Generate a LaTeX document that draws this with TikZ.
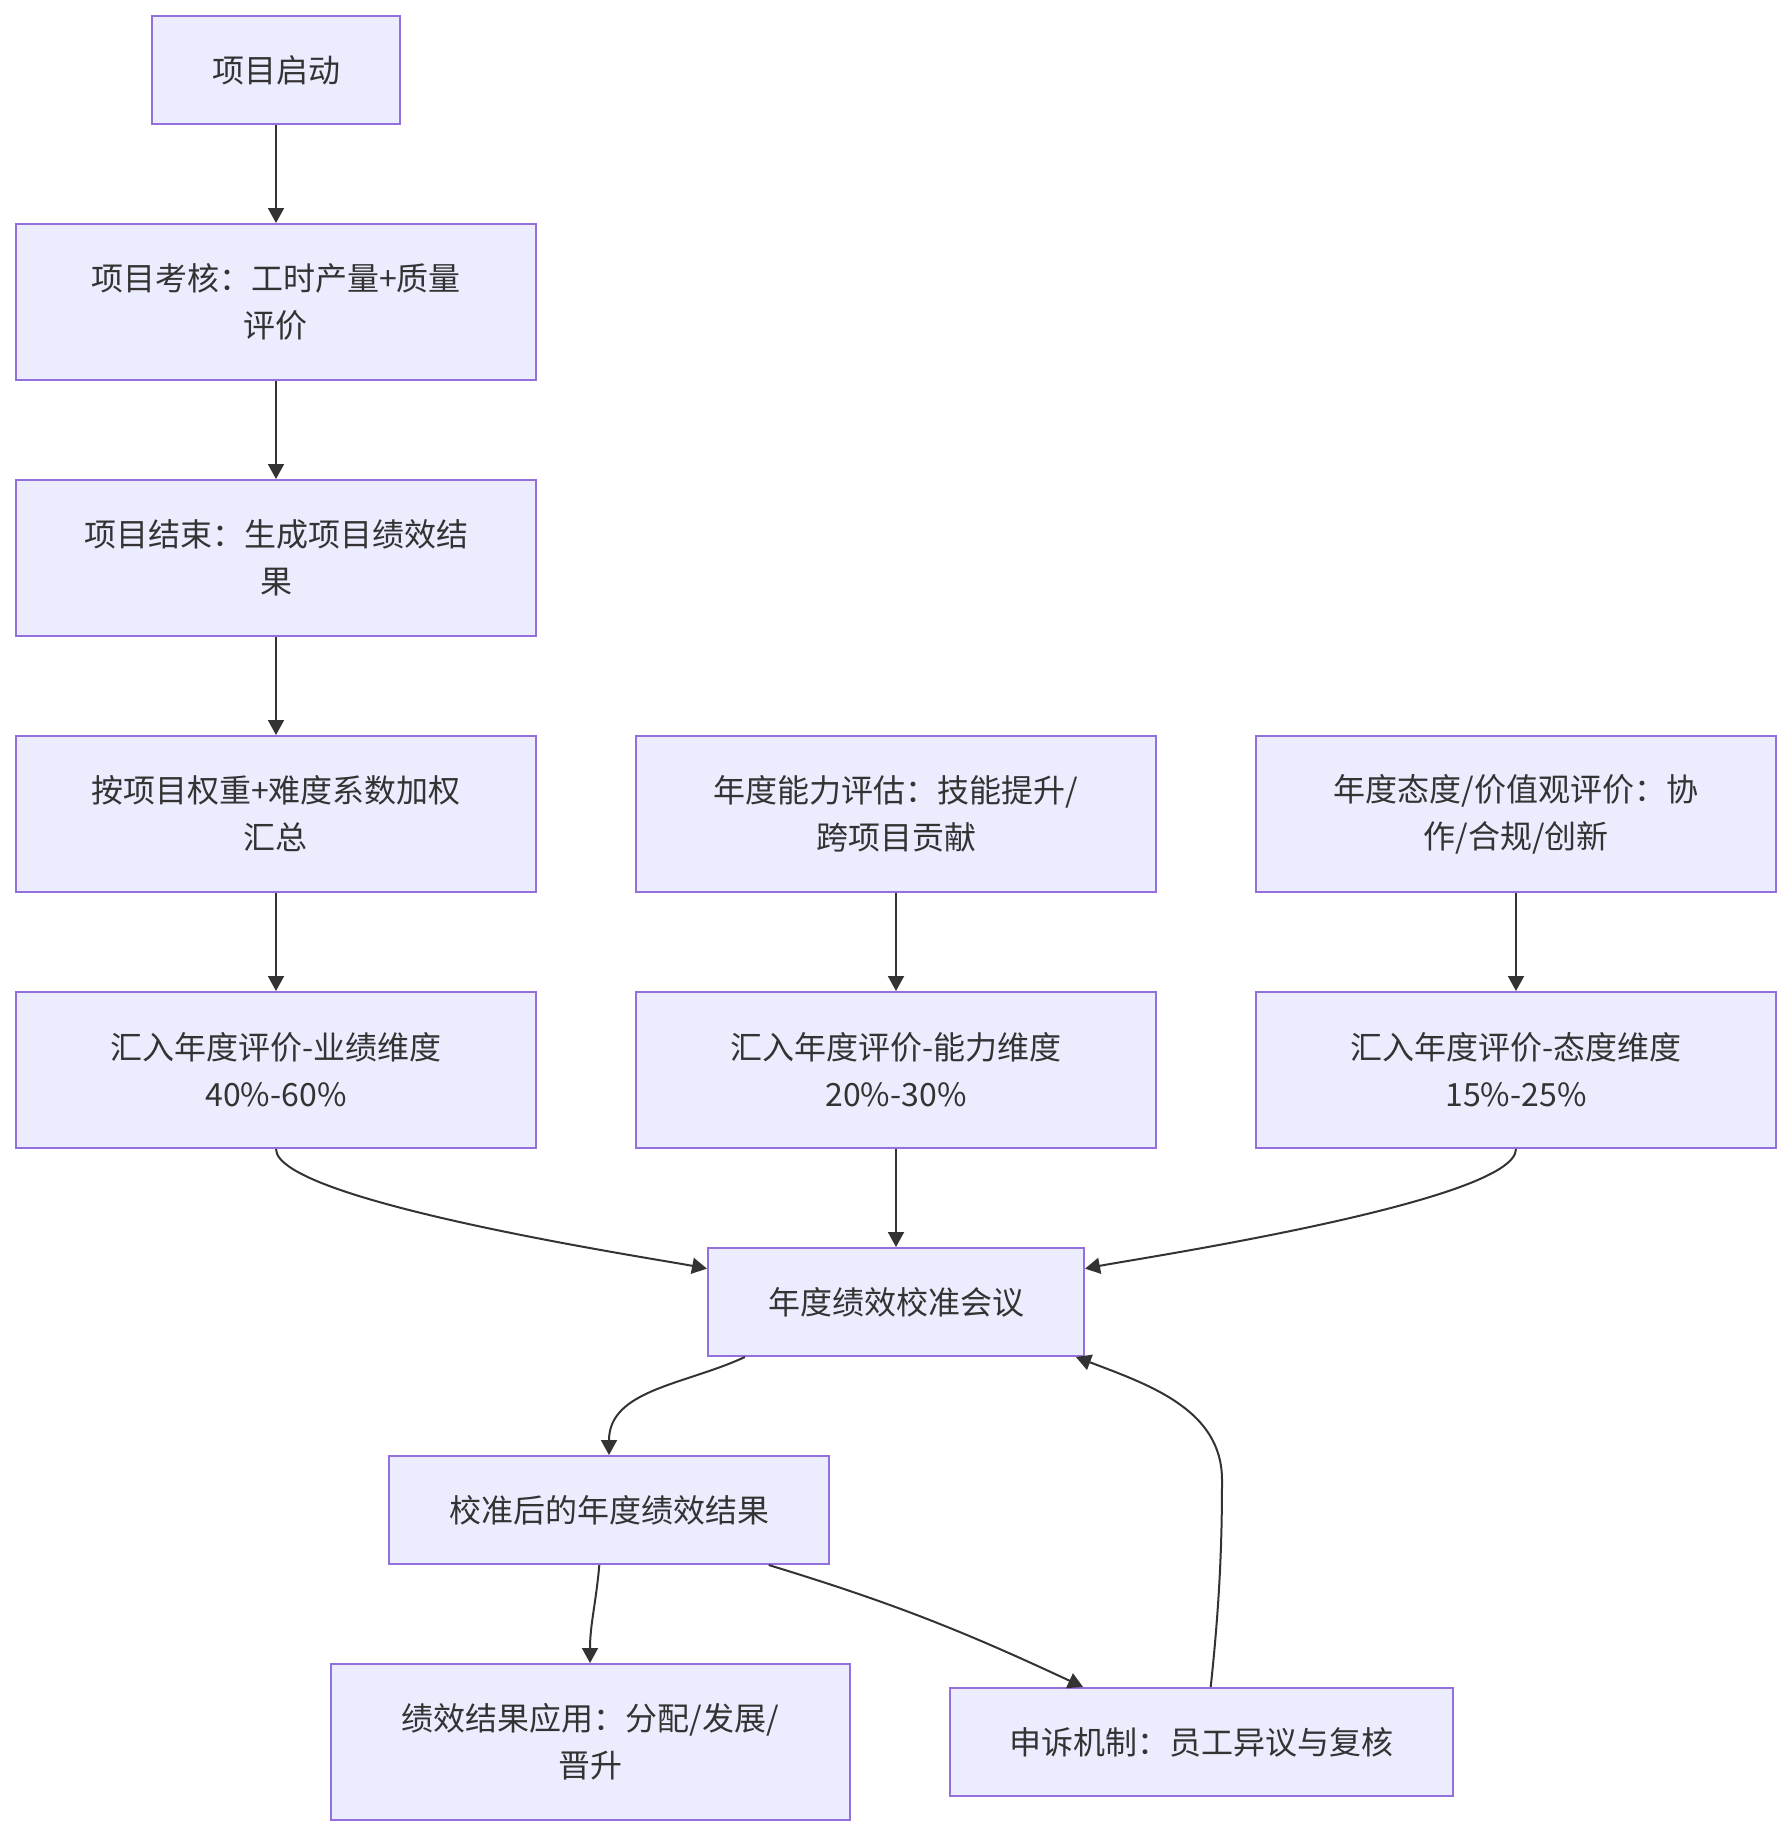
\documentclass[tikz,border=0pt]{standalone}
\usepackage{fontspec}
\setmainfont{Noto Sans CJK SC}
\usepackage{tikz}
\usetikzlibrary{arrows.meta}
\definecolor{boxfill}{HTML}{ECECFF}
\definecolor{boxline}{HTML}{9370DB}
\definecolor{ink}{HTML}{333333}

\begin{document}
\begin{tikzpicture}[x=0.5pt,y=0.5pt,
    box/.style={draw=boxline, fill=boxfill, line width=1pt, text=ink, align=center,
      inner sep=0pt, minimum height=54pt, minimum width=260pt,
      font=\fontsize{16pt}{23.5pt}\selectfont},
    tall/.style={box, minimum height=78pt},
    arr/.style={draw=ink, line width=1pt, -{Triangle[length=7.5pt,width=8pt]}}]
      \useasboundingbox (0,0) rectangle (1792,-1836);
      \node[box, minimum width=124pt] (Start) at (276,-70) {项目启动};
      \node[tall] (Assess) at (276,-302) {项目考核：工时产量+质量\\评价};
      \node[tall] (Finish) at (276,-558) {项目结束：生成项目绩效结\\果};
      \node[tall] (Weight) at (276,-814) {按项目权重+难度系数加权\\汇总};
      \node[tall] (Perf) at (276,-1070) {汇入年度评价-业绩维度\\40\%-60\%};
      \node[tall] (Ability) at (896,-814) {年度能力评估：技能提升/\\跨项目贡献};
      \node[tall] (AbilDim) at (896,-1070) {汇入年度评价-能力维度\\20\%-30\%};
      \node[tall] (Attitude) at (1516,-814) {年度态度/价值观评价：协\\作/合规/创新};
      \node[tall] (AttDim) at (1516,-1070) {汇入年度评价-态度维度\\15\%-25\%};
      \node[box, minimum width=188pt] (Calib) at (896,-1302) {年度绩效校准会议};
      \node[box, minimum width=220pt] (Result) at (609,-1510) {校准后的年度绩效结果};
      \node[tall, minimum width=259.5pt] (Apply) at (590,-1742) {绩效结果应用：分配/发展/\\晋升};
      \node[box, minimum width=251.5pt] (Appeal) at (1201,-1742) {申诉机制：员工异议与复核};
      \draw[arr] (Start) -- (Assess);
      \draw[arr] (Assess) -- (Finish);
      \draw[arr] (Finish) -- (Weight);
      \draw[arr] (Weight) -- (Perf);
      \draw[arr] (Ability) -- (AbilDim);
      \draw[arr] (Attitude) -- (AttDim);
      \draw[arr] (AbilDim) -- (Calib);
      \draw[arr] (Perf.south) to[out=-90, in=169, looseness=0.3] (Calib.170);
      \draw[arr] (AttDim.south) to[out=-90, in=11, looseness=0.3] (Calib.10);
      \draw[arr] (Calib.200) to[out=205, in=90] (Result.north);
      \draw[arr] (Result.260) to[out=-95, in=90] (Apply.north);
      \draw[arr] (Result.-19.7) to[out=-17, in=155] (Appeal.155.5);
      \draw[arr] (Appeal.80) .. controls (1220,-1600) and (1222,-1540) .. (1222,-1480)
        .. controls (1222,-1410) and (1150,-1385) .. (Calib.-17);
    \end{tikzpicture}
\end{document}
